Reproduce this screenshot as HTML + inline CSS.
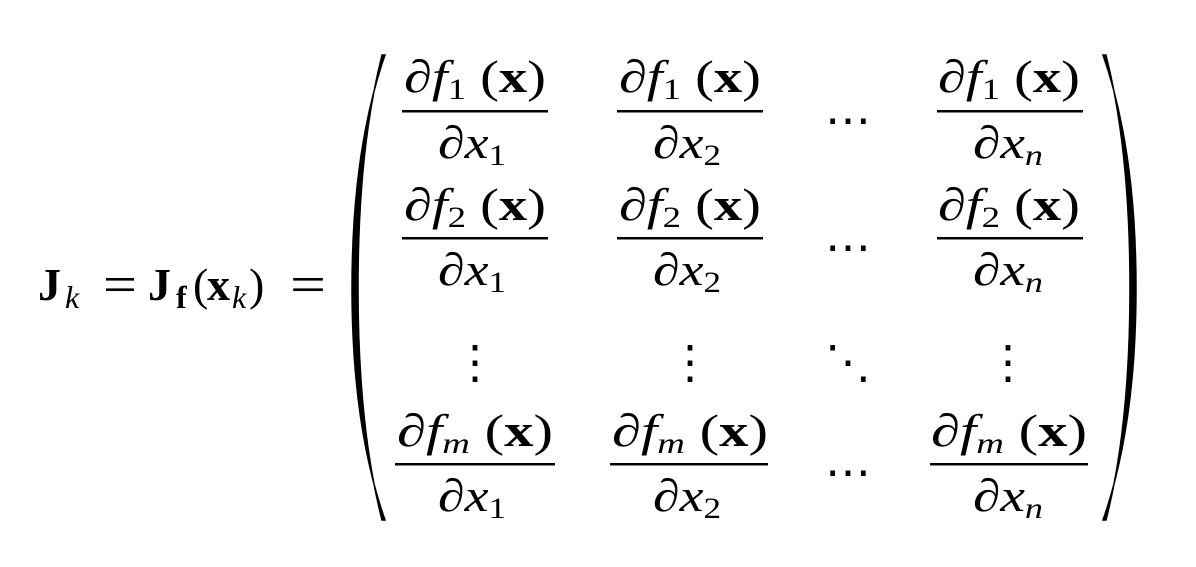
<!DOCTYPE html>
<html><head><meta charset="utf-8"><style>
html,body{margin:0;padding:0;background:#fff;}
svg{display:block;}
text,tspan{font-family:"Liberation Serif",serif;fill:#000;}
</style></head><body>
<svg width="1196" height="567" viewBox="0 0 1196 567" xmlns="http://www.w3.org/2000/svg">
<g font-size="46">
<text x="38" y="300" font-weight="bold">J</text>
<text x="65" y="308" font-size="32" font-style="italic">k</text>
<text x="103" y="302" textLength="34" lengthAdjust="spacingAndGlyphs" font-size="52">=</text>
<text x="148" y="300" font-weight="bold">J</text>
<text x="176" y="308" font-size="32" font-weight="bold">f</text>
<text x="193" y="300">(</text>
<text x="207" y="300" font-weight="bold">x</text>
<text x="232" y="308" font-size="32" font-style="italic">k</text>
<text x="249" y="300">)</text>
<text x="290" y="302" textLength="36" lengthAdjust="spacingAndGlyphs" font-size="52">=</text>
</g>
<path d="M385,55 Q352,150 352,288 Q352,426 385,520 L382,520 Q358,426 358,288 Q358,150 382,55 Z" fill="#000" stroke="#000" stroke-width="1.5"/>
<path d="M1103,55 Q1136,150 1136,288 Q1136,426 1103,520 L1106,520 Q1130,426 1130,288 Q1130,150 1106,55 Z" fill="#000" stroke="#000" stroke-width="1.5"/>
<g font-size="46" text-anchor="middle">
<text x="475" y="92" textLength="142" lengthAdjust="spacingAndGlyphs">∂<tspan font-style="italic">f</tspan><tspan font-size="30" dy="7">1</tspan><tspan dy="-7"> (</tspan><tspan font-weight="bold">x</tspan>)</text>
<text x="690" y="92" textLength="142" lengthAdjust="spacingAndGlyphs">∂<tspan font-style="italic">f</tspan><tspan font-size="30" dy="7">1</tspan><tspan dy="-7"> (</tspan><tspan font-weight="bold">x</tspan>)</text>
<text x="1009" y="92" textLength="142" lengthAdjust="spacingAndGlyphs">∂<tspan font-style="italic">f</tspan><tspan font-size="30" dy="7">1</tspan><tspan dy="-7"> (</tspan><tspan font-weight="bold">x</tspan>)</text>
<text x="472" y="158" textLength="68" lengthAdjust="spacingAndGlyphs">∂<tspan font-style="italic">x</tspan><tspan font-size="30" dy="7">1</tspan></text>
<text x="687" y="158" textLength="68" lengthAdjust="spacingAndGlyphs">∂<tspan font-style="italic">x</tspan><tspan font-size="30" dy="7">2</tspan></text>
<text x="1008" y="158" textLength="70" lengthAdjust="spacingAndGlyphs">∂<tspan font-style="italic">x</tspan><tspan font-size="30" font-style="italic" dy="7">n</tspan></text>
<text x="848" y="136">⋯</text>

<text x="475" y="220" textLength="142" lengthAdjust="spacingAndGlyphs">∂<tspan font-style="italic">f</tspan><tspan font-size="30" dy="7">2</tspan><tspan dy="-7"> (</tspan><tspan font-weight="bold">x</tspan>)</text>
<text x="690" y="220" textLength="142" lengthAdjust="spacingAndGlyphs">∂<tspan font-style="italic">f</tspan><tspan font-size="30" dy="7">2</tspan><tspan dy="-7"> (</tspan><tspan font-weight="bold">x</tspan>)</text>
<text x="1009" y="220" textLength="142" lengthAdjust="spacingAndGlyphs">∂<tspan font-style="italic">f</tspan><tspan font-size="30" dy="7">2</tspan><tspan dy="-7"> (</tspan><tspan font-weight="bold">x</tspan>)</text>
<text x="472" y="285" textLength="68" lengthAdjust="spacingAndGlyphs">∂<tspan font-style="italic">x</tspan><tspan font-size="30" dy="7">1</tspan></text>
<text x="687" y="285" textLength="68" lengthAdjust="spacingAndGlyphs">∂<tspan font-style="italic">x</tspan><tspan font-size="30" dy="7">2</tspan></text>
<text x="1008" y="285" textLength="70" lengthAdjust="spacingAndGlyphs">∂<tspan font-style="italic">x</tspan><tspan font-size="30" font-style="italic" dy="7">n</tspan></text>
<text x="848" y="263">⋯</text>

<text x="475" y="378">⋮</text>
<text x="690" y="378">⋮</text>
<text x="1008" y="378">⋮</text>
<text x="848" y="378" font-family="DejaVu Sans">⋱</text>

<text x="475" y="446" textLength="156" lengthAdjust="spacingAndGlyphs">∂<tspan font-style="italic">f</tspan><tspan font-size="30" font-style="italic" dy="7">m</tspan><tspan dy="-7"> (</tspan><tspan font-weight="bold">x</tspan>)</text>
<text x="690" y="446" textLength="156" lengthAdjust="spacingAndGlyphs">∂<tspan font-style="italic">f</tspan><tspan font-size="30" font-style="italic" dy="7">m</tspan><tspan dy="-7"> (</tspan><tspan font-weight="bold">x</tspan>)</text>
<text x="1009" y="446" textLength="156" lengthAdjust="spacingAndGlyphs">∂<tspan font-style="italic">f</tspan><tspan font-size="30" font-style="italic" dy="7">m</tspan><tspan dy="-7"> (</tspan><tspan font-weight="bold">x</tspan>)</text>
<text x="472" y="511" textLength="68" lengthAdjust="spacingAndGlyphs">∂<tspan font-style="italic">x</tspan><tspan font-size="30" dy="7">1</tspan></text>
<text x="687" y="511" textLength="68" lengthAdjust="spacingAndGlyphs">∂<tspan font-style="italic">x</tspan><tspan font-size="30" dy="7">2</tspan></text>
<text x="1008" y="511" textLength="70" lengthAdjust="spacingAndGlyphs">∂<tspan font-style="italic">x</tspan><tspan font-size="30" font-style="italic" dy="7">n</tspan></text>
<text x="848" y="488">⋯</text>
</g>
<g fill="#000">
<rect x="402" y="110" width="146" height="2.5"/>
<rect x="617" y="110" width="146" height="2.5"/>
<rect x="937" y="110" width="146" height="2.5"/>
<rect x="402" y="237" width="146" height="2.5"/>
<rect x="617" y="237" width="146" height="2.5"/>
<rect x="937" y="237" width="146" height="2.5"/>
<rect x="395" y="463" width="160" height="2.5"/>
<rect x="610" y="463" width="158" height="2.5"/>
<rect x="930" y="463" width="158" height="2.5"/>
</g>
</svg>
</body></html>
